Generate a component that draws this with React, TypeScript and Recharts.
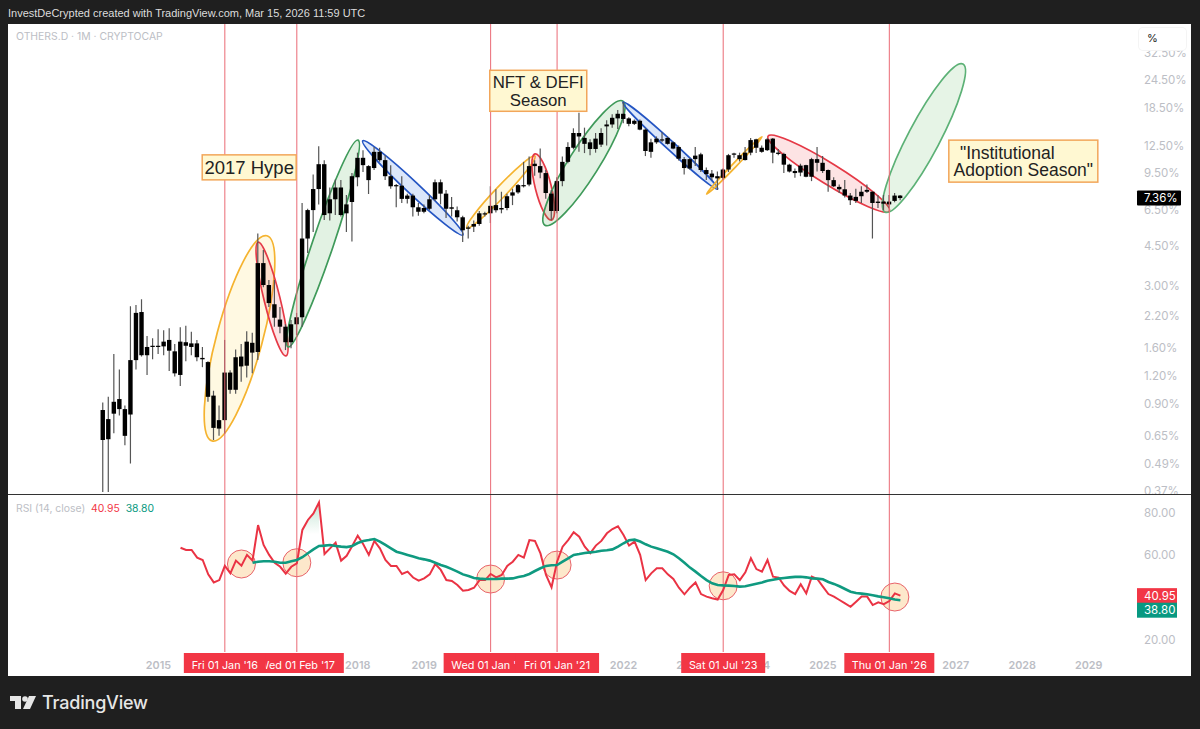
import React from 'react';
import {
  Area, Bar, ComposedChart, Line, ReferenceDot, ReferenceLine, XAxis, YAxis,
} from 'recharts';

// monthly candles, index 0 = Mar 2014, last = Mar 2026
const opens = [
  .846,.628,.815,.946,.854,.808,1.408,2.30,1.48,1.61,
  1.63,1.62,1.73,1.54,1.21,1.69,1.61,1.67,1.44,1.38,
  .98,.70,.763,1.24,1.04,1.46,1.33,1.68,1.53,3.79,
  3.03,2.49,2.13,1.98,1.69,2.03,2.18,4.87,6.51,8.07,
  10.4,6.3,7.27,8.2,6.3,7.07,9.1,11.1,10.2,10.0,
  11.8,10.84,9.2,8.4,8.35,7.3,7.55,6.7,6.4,6.6,
  7.27,8.65,7.7,6.7,6.5,6.05,5.4,5.5,5.65,6.25,
  6.3,6.85,6.55,6.65,7.55,7.8,8.4,8.45,10.2,10.2,
  9.5,7.7,6.45,8.75,10.65,12.3,14.3,13.6,13.0,12.15,
  12.7,15.3,15.6,16.6,17.4,16.6,15.7,16.2,14.8,11.8,
  13.0,13.4,13.6,13.0,12.4,10.95,9.95,10.95,11.5,9.8,
  9.45,9.2,9.05,9.85,11.55,11.4,10.85,11.7,13.4,12.3,
  12.0,13.5,11.7,11.55,10.35,9.7,9.55,10.3,9.15,10.95,
  10.55,9.8,8.84,8.25,8.05,7.55,7.15,7.5,7.85,7.85,
  7.0,7.1,6.9,7.15,7.55,
];
const closes = [
  .623,.771,.92,.854,.65,1.408,2.28,1.48,1.61,1.63,
  1.61,1.70,1.55,1.23,1.70,1.63,1.67,1.45,1.42,.968,
  .705,.763,1.24,1.04,1.45,1.32,1.70,1.52,3.79,3.03,
  2.52,2.17,1.98,1.69,2.03,2.18,4.87,6.51,8.07,10.4,
  6.19,7.27,8.2,6.19,6.9,9.2,11.1,10.3,8.84,11.8,
  10.84,9.2,8.3,8.3,7.3,7.55,6.7,6.4,6.65,7.27,
  8.65,7.7,6.6,6.6,6.05,5.3,5.45,5.65,6.3,6.3,
  6.8,6.5,6.65,7.5,7.8,8.4,8.3,10.2,10.45,9.55,
  7.75,6.45,8.75,10.65,12.4,14.3,13.8,12.8,12.15,13.5,
  14.3,15.6,16.7,17.4,16.5,15.7,16.2,14.8,11.9,13.0,
  13.5,13.3,12.8,12.2,11.0,10.0,10.95,11.35,9.8,9.4,
  9.1,9.0,9.85,11.4,11.6,10.95,11.7,13.3,12.3,11.8,
  13.4,11.7,11.55,10.35,9.65,9.5,10.25,9.15,10.95,10.55,
  9.7,8.84,8.3,8.05,7.55,7.2,7.45,7.85,8.0,7.0,
  7.1,6.95,7.1,7.55,7.36,
];
const highs = [
  .913,.968,1.497,1.28,.885,2.44,2.47,2.62,1.80,1.76,
  1.93,1.91,1.95,1.66,1.97,2.0,1.88,1.73,1.61,1.39,
  1.03,.885,1.73,1.27,1.57,1.66,1.89,1.86,5.13,4.33,
  3.19,3.19,2.42,2.03,2.12,2.28,7.0,6.6,9.35,12.5,
  10.84,8.2,8.9,8.84,7.6,9.5,11.7,12.0,10.3,12.4,
  12.3,11.4,10.3,8.5,9.2,7.7,7.7,7.0,6.9,7.6,
  8.9,8.9,8.0,7.45,6.75,6.15,5.55,5.85,6.45,6.4,
  8.3,8.05,7.85,7.7,8.1,8.5,10.65,11.25,10.84,12.2,
  9.8,8.0,9.1,11.25,13.0,15.0,17.6,15.1,13.4,14.3,
  15.0,16.3,17.3,18.1,19.6,16.8,16.4,16.4,15.0,13.5,
  13.8,14.4,13.8,13.1,12.6,11.2,11.1,12.4,11.7,10.05,
  9.8,9.65,9.95,11.55,11.7,11.7,12.4,13.6,13.5,12.6,
  13.6,13.6,12.15,11.7,10.45,9.95,10.45,10.35,11.1,12.4,
  11.3,9.85,9.1,8.45,8.84,7.75,8.1,8.3,8.45,7.9,
  7.6,7.6,7.6,7.75,7.6,
];
const lows = [
  .366,.366,.668,.80,.59,.49,1.28,1.46,1.21,1.42,
  1.50,1.48,1.26,1.19,1.08,1.39,1.48,1.39,1.31,.92,
  .623,.65,.665,1.0,1.0,1.13,1.18,1.23,1.41,2.96,
  2.42,1.98,1.85,1.56,1.59,1.82,1.98,4.2,5.2,6.9,
  5.88,5.85,6.19,6.1,5.2,4.73,8.3,9.6,7.67,9.79,
  10.65,8.84,8.1,6.7,7.0,6.97,6.1,6.15,6.3,6.5,
  7.15,6.9,6.0,6.1,5.8,4.7,4.87,5.2,5.55,6.1,
  5.7,6.35,6.3,6.5,6.85,7.7,8.2,8.3,9.25,9.0,
  7.3,5.88,6.3,8.3,10.5,12.1,11.8,11.65,11.4,11.7,
  12.4,12.6,15.1,14.9,15.8,15.3,15.5,14.7,11.3,11.1,
  12.8,13.0,12.7,12.1,10.8,9.35,9.85,10.2,9.6,8.84,
  8.84,8.0,8.9,9.6,11.1,10.7,10.8,11.4,11.65,11.7,
  11.9,10.5,11.4,9.5,9.55,9.05,9.2,9.1,8.75,9.65,
  9.5,7.85,8.25,7.75,7.4,6.85,7.0,7.0,7.75,4.87,
  6.65,6.5,6.65,7.05,7.2,
];

// RSI starts at candle 14, its average at candle 27
const rsiStart = 14;
const rsiValues = [
  63.6,62.5,62.5,58.9,57.8,51.0,47.2,48.3,55.0,51.5,
  57.5,55.1,60.2,57.5,74.3,64.9,60.2,56.5,54.6,51.3,
  54.6,56.2,72.0,76.7,79.8,85.0,60.6,63.3,66.0,57.5,
  59.8,64.4,69.3,65.2,60.2,66.8,63.3,57.8,55.0,55.0,
  51.2,52.3,49.5,48.0,49.1,51.0,55.9,53.1,48.3,47.9,
  46.0,43.3,43.6,44.7,48.3,48.3,51.2,49.6,50.7,55.0,
  57.0,60.2,58.9,67.2,66.8,60.9,50.7,44.9,57.0,64.1,
  67.2,70.9,68.8,64.1,61.0,64.6,66.8,70.4,72.4,73.7,
  69.6,64.6,66.5,60.2,48.3,51.5,53.9,53.9,51.0,48.8,
  44.7,41.6,44.7,47.2,41.7,40.5,39.7,39.1,43.6,50.7,
  51.0,48.3,52.0,58.6,53.5,52.3,57.8,49.9,49.5,45.7,
  43.2,41.7,46.3,42.0,49.9,48.8,45.2,41.7,40.5,38.9,
  37.3,35.7,38.1,40.5,40.5,36.5,37.8,36.9,38.4,42.0,40.95,
];
const maStart = 27;
const maValues = [
  56.5,57.0,57.2,57.2,57.0,56.5,56.5,57.2,57.8,59.1,
  61.0,62.8,64.4,64.6,64.9,64.4,64.1,63.9,64.4,65.8,
  66.8,67.2,67.7,66.5,64.9,63.3,61.7,61.0,60.2,59.4,
  58.6,58.1,57.5,56.5,55.4,54.6,53.5,52.3,51.0,50.2,
  49.3,49.0,48.8,48.8,48.8,49.0,49.0,49.1,49.8,50.2,
  51.2,52.6,53.9,55.0,55.3,55.4,57.0,58.6,60.2,60.6,
  61.1,61.4,61.7,62.2,62.4,62.8,64.1,65.7,67.1,67.4,
  66.5,65.2,64.1,63.3,62.5,61.7,60.5,58.6,56.5,54.2,
  52.3,50.2,48.3,46.8,46.0,45.8,45.7,45.5,45.2,45.4,
  46.0,46.6,47.2,48.0,48.5,49.0,49.3,49.6,49.8,49.9,
  49.6,49.1,49.0,48.7,47.4,46.5,45.4,44.1,42.8,42.2,
  41.9,41.6,41.1,40.6,40.2,39.7,39.1,38.8,
];

const priceTicks = [0.37,0.49,0.65,0.9,1.2,1.6,2.2,3,4.5,6.5,9.5,12.5,18.5,24.5,32.5];
const lastPrice = 7.36;
const rsiTicks = [80,60,20];
const lastRsi = 40.95;
const lastMa = 38.8;

const yearTicks = [10,34,46,58,94,106,118,130,154,166,178];
const yearLabels = ['2015','2017','2018','2019','2022','2023','2024','2025','2027','2028','2029'];
// drawn in this order, later boxes cover earlier ones
const eventMonths = [35,22,70,82,112,142];
const eventLabels = ["Wed 01 Feb '17","Fri 01 Jan '16","Wed 01 Jan '20","Fri 01 Jan '21","Sat 01 Jul '23","Thu 01 Jan '26"];
const eventWidths = [94,82,94,84,84,90];

const rsiCircles = [[25,55.9],[35,56.5],[70,48.8],[82,55.4],[112,45.6],[143,40.3]];

// [from month, from price, to month, to price, half width px, stroke, fill]
const ellipses: [number,number,number,number,number,string,string][] = [
  [19.7,.617,29.6,5.01,23,'#f5b32f','rgba(255,236,160,0.3)'],
  [28,4.69,33.05,1.47,8,'#e53946','rgba(240,80,90,0.16)'],
  [33.4,1.61,46.05,13.3,10.5,'#3f9a5a','rgba(76,175,80,0.16)'],
  [46.9,13.2,65,5.05,6.2,'#2455c3','rgba(60,120,230,0.18)'],
  [65.7,5.43,78,11.3,5.5,'#f5b32f','rgba(255,236,160,0.3)'],
  [78,11.55,81,5.88,8,'#e53946','rgba(240,80,90,0.16)'],
  [79.8,5.58,93.9,19.8,15,'#3f9a5a','rgba(76,175,80,0.16)'],
  [93.9,19.6,111,8.07,4.3,'#2455c3','rgba(60,120,230,0.18)'],
  [109,7.67,119,13.75,2,'#f5b32f','rgba(255,236,160,0.3)'],
  [120.1,13.85,142,6.44,10.5,'#e53946','rgba(240,80,90,0.16)'],
  [141.2,6.38,155.3,28.9,16,'#5cb176','rgba(76,175,80,0.14)'],
];

// [month, price, width px, height px, font px, line shifts px, lines]
const notes: [number,number,number,number,number,number[],string[]][] = [
  [26.4,10.07,94,25,18.5,[0],['2017 Hype']],
  [78.6,22,97,41,16.8,[0,0],['NFT & DEFI','Season']],
  [166.2,10.73,149,42,17.5,[-16,0],['"Institutional','Adoption Season"']],
];

const candles = opens.map((open, i) => ({
  i, open, close: closes[i], high: highs[i], low: lows[i], range: [lows[i], highs[i]],
}));

const rsiRows = opens.map((_, i) => {
  const rsi = i >= rsiStart ? rsiValues[i - rsiStart] : null;
  return {
    i,
    rsi,
    ma: i >= maStart ? maValues[i - maStart] : null,
    over: rsi !== null && rsi >= 70 && i < 50 && i > 30 ? [70, rsi] : null,
  };
});

const X_DOMAIN: [number, number] = [-17.16, 186.73];
const PRICE_DOMAIN: [number, number] = [0.359, 43.5];
const RSI_DOMAIN: [number, number] = [14.33, 88.5];
const W = 1183;
const AXIS_W = 54;
const PLOT_RIGHT = W - AXIS_W;
const NO_MARGIN = { top: 0, right: 0, bottom: 0, left: 0 };
const MAIN_MARGIN = { top: 0, right: 0, bottom: 10, left: 0 };
const SANS = '"Liberation Sans", Arial, sans-serif';
const AXIS_FONT = 'Inter, sans-serif';
const GREY = '#bcbec5';
const RED = '#f23645';
const TEAL = '#089981';
const EVENT_LINE = '#ea6a75';
const PANE_TOP = 495;

function Candle(props: any) {
  const { x, y, width, height, payload } = props;
  const { open, close, high, low } = payload;
  const cx = x + width / 2;
  const toY = (v: number) => y + height * Math.log(high / v) / Math.log(high / low);
  const top = toY(Math.max(open, close));
  const bottom = toY(Math.min(open, close));
  return (
    <g>
      <line x1={cx} x2={cx} y1={y} y2={y + height} stroke="#555" strokeWidth={1.2} />
      <rect x={cx - 2.2} y={top} width={4.4} height={Math.max(bottom - top, 1.2)} fill="#000" />
    </g>
  );
}

function ellipseShape(halfWidth: number, stroke: string, fill: string) {
  return (p: any) => {
    const { x1, y1, x2, y2 } = p;
    const mx = (x1 + x2) / 2;
    const my = (y1 + y2) / 2;
    const rx = Math.hypot(x2 - x1, y2 - y1) / 2;
    const deg = (Math.atan2(y2 - y1, x2 - x1) * 180) / Math.PI;
    return (
      <ellipse cx={mx} cy={my} rx={rx} ry={halfWidth} fill={fill} stroke={stroke} strokeWidth={1.7}
        transform={`rotate(${deg} ${mx} ${my})`} />
    );
  };
}

function noteShape(w: number, h: number, font: number, shifts: number[], lines: string[]) {
  return (p: any) => {
    const { cx, cy } = p;
    const startY = cy - ((lines.length - 1) * 17.7) / 2 + 6.5;
    return (
      <g>
        <rect x={cx - w / 2} y={cy - h / 2} width={w} height={h} fill="#fff8d2" stroke="#f2a65a" strokeWidth={1.5} />
        {lines.map((t, k) => (
          <text key={k} x={cx + shifts[k]} y={startY + k * 17.7} textAnchor="middle" fontSize={font} fontFamily={SANS} fill="#222">
            {t}
          </text>
        ))}
      </g>
    );
  };
}

function PriceTick(props: any) {
  const { y, payload } = props;
  const v = payload.value;
  const tx = PLOT_RIGHT + 7;
  if (v === lastPrice) {
    return (
      <g>
        <rect x={PLOT_RIGHT} y={y - 7.5} width={44} height={15} fill="#000" rx={1} />
        <text x={tx} y={y + 4} fontSize={11.5} fontFamily={AXIS_FONT} fill="#fff">{v.toFixed(2)}%</text>
      </g>
    );
  }
  return <text x={tx} y={y + 4} fontSize={11.5} fontFamily={AXIS_FONT} fill={GREY}>{v.toFixed(2)}%</text>;
}

function RsiTick(props: any) {
  const { y, payload } = props;
  const v = payload.value;
  const tx = PLOT_RIGHT + 7;
  if (v === lastRsi || v === lastMa) {
    const dy = v === lastMa ? 10 : 0;
    return (
      <g>
        <rect x={PLOT_RIGHT} y={y + dy - 7.5} width={40} height={15} fill={v === lastMa ? TEAL : RED} />
        <text x={tx} y={y + dy + 4} fontSize={11.5} fontFamily={AXIS_FONT} fill="#fff">{v.toFixed(2)}</text>
      </g>
    );
  }
  return <text x={tx} y={y + 4} fontSize={11.5} fontFamily={AXIS_FONT} fill={GREY}>{v.toFixed(2)}</text>;
}

function TimeTick(props: any) {
  const { x, payload } = props;
  const v = payload.value;
  const ev = eventMonths.indexOf(v);
  if (ev >= 0) {
    const w = eventWidths[ev];
    return (
      <g>
        <rect x={x - w / 2} y={653 - PANE_TOP} width={w} height={20} fill={RED} />
        <text x={x} y={669 - PANE_TOP} textAnchor="middle" fontSize={10.8} fontFamily={AXIS_FONT} fill="#fff">{eventLabels[ev]}</text>
      </g>
    );
  }
  return (
    <text x={x} y={669 - PANE_TOP} textAnchor="middle" fontSize={10.8} fontWeight={600} fontFamily={AXIS_FONT} fill={GREY}>
      {yearLabels[yearTicks.indexOf(v)]}
    </text>
  );
}

function Logo() {
  return (
    <svg width={30} height={16} style={{ position: 'absolute', left: 9, top: 695 }}>
      <path d="M1 1h11v13H6V6H1z" fill="#e6e6e6" />
      <circle cx={16} cy={4} r={2.8} fill="#e6e6e6" />
      <path d="M20 1h7l-6 13h-7z" fill="#e6e6e6" />
    </svg>
  );
}

export default function App() {
  const layer: React.CSSProperties = { position: 'absolute', left: 8 };
  return (
    <div style={{ position: 'absolute', left: 0, top: 0, width: 1200, height: 729, background: '#1f1f1f', overflow: 'hidden' }}>
      <div style={{ position: 'absolute', left: 8, top: 7, color: '#dcdcdc', font: `11px ${SANS}`, whiteSpace: 'nowrap' }}>
        InvestDeCrypted created with TradingView.com, Mar 15, 2026 11:59 UTC
      </div>
      <div style={{ position: 'absolute', left: 8, top: 24, width: W, height: 652, background: '#fff' }} />

      {/* drawings sit behind the candles */}
      <div style={{ ...layer, top: 24 }}>
        <ComposedChart width={W} height={480} data={candles} margin={MAIN_MARGIN}>
          <XAxis dataKey="i" type="number" domain={X_DOMAIN} allowDataOverflow hide />
          <YAxis orientation="right" width={AXIS_W} scale="log" domain={PRICE_DOMAIN} allowDataOverflow
            tick={false} axisLine={false} tickLine={false} />
          {ellipses.map(([m1, p1, m2, p2, hw, stroke, fill], k) => (
            <ReferenceLine key={k} ifOverflow="visible"
              segment={[{ x: m1, y: p1 }, { x: m2, y: p2 }]}
              shape={ellipseShape(hw, stroke, fill)} />
          ))}
        </ComposedChart>
      </div>

      <div style={{ ...layer, top: 24 }}>
        <ComposedChart width={W} height={480} data={candles} margin={MAIN_MARGIN}>
          <XAxis dataKey="i" type="number" domain={X_DOMAIN} allowDataOverflow hide />
          <YAxis orientation="right" width={AXIS_W} scale="log" domain={PRICE_DOMAIN} allowDataOverflow
            ticks={[...priceTicks, lastPrice]} interval={0} tick={<PriceTick />} axisLine={false} tickLine={false} />
          <Bar dataKey="range" barSize={5} shape={<Candle />} isAnimationActive={false} />
          {notes.map(([m, p, w, h, font, shifts, lines], k) => (
            <ReferenceDot key={k} x={m} y={p} ifOverflow="visible" shape={noteShape(w, h, font, shifts, lines)} />
          ))}
          {eventMonths.map((m) => (
            <ReferenceLine key={m} x={m} stroke={EVENT_LINE} strokeWidth={1} />
          ))}
        </ComposedChart>
      </div>

      <div style={{ position: 'absolute', left: 16, top: 30, color: GREY, font: '10.4px Inter, sans-serif' }}>OTHERS.D · 1M · CRYPTOCAP</div>
      <div style={{ position: 'absolute', left: 1139, top: 28, width: 47, height: 22, background: '#fff', boxShadow: '0 0 0 1px #f4f4f4', borderRadius: 4, color: '#222', font: '11px Inter, sans-serif', lineHeight: '20px', textIndent: 8 }}>%</div>

      <div style={{ position: 'absolute', left: 8, top: 494, width: W, height: 1, background: '#333' }} />

      <div style={{ ...layer, top: PANE_TOP }}>
        <ComposedChart width={W} height={181} data={rsiRows} margin={NO_MARGIN}>
          <XAxis dataKey="i" type="number" domain={X_DOMAIN} allowDataOverflow height={24} tick={false} axisLine={false} tickLine={false} />
          <YAxis orientation="right" width={AXIS_W} domain={RSI_DOMAIN} allowDataOverflow tick={false} axisLine={false} tickLine={false} />
          {rsiCircles.map(([m, v], k) => (
            <ReferenceDot key={k} x={m} y={v} r={14} fill="rgba(250,200,130,0.42)" stroke="#e8636a" strokeWidth={1} />
          ))}
        </ComposedChart>
      </div>

      <div style={{ ...layer, top: PANE_TOP }}>
        <ComposedChart width={W} height={181} data={rsiRows} margin={NO_MARGIN}>
          <defs>
            <linearGradient id="overFill" x1="0" y1="0" x2="0" y2="1">
              <stop offset="0%" stopColor="#4caf7d" stopOpacity={0.55} />
              <stop offset="100%" stopColor="#4caf7d" stopOpacity={0} />
            </linearGradient>
          </defs>
          <XAxis dataKey="i" type="number" domain={X_DOMAIN} allowDataOverflow height={24}
            ticks={[...yearTicks, ...eventMonths]} interval={0} tick={<TimeTick />} axisLine={false} tickLine={false} />
          <YAxis orientation="right" width={AXIS_W} domain={RSI_DOMAIN} allowDataOverflow
            ticks={[...rsiTicks, lastRsi, lastMa]} interval={0} tick={<RsiTick />} axisLine={false} tickLine={false} />
          {eventMonths.map((m) => (
            <ReferenceLine key={m} x={m} stroke={EVENT_LINE} strokeWidth={1} />
          ))}
          <Area dataKey="over" stroke="none" fill="url(#overFill)" isAnimationActive={false} dot={false} activeDot={false} />
          <Line dataKey="rsi" stroke="#ea3344" strokeWidth={2} dot={false} isAnimationActive={false} />
          <Line dataKey="ma" stroke="#0f9a80" strokeWidth={2.6} dot={false} isAnimationActive={false} />
        </ComposedChart>
      </div>

      <div style={{ position: 'absolute', left: 16, top: 502, font: '10.4px Inter, sans-serif', color: GREY, whiteSpace: 'pre' }}>
        RSI (14, close)  <span style={{ color: RED }}>40.95</span>  <span style={{ color: TEAL }}>38.80</span>
      </div>

      <Logo />
      <div style={{ position: 'absolute', left: 42, top: 692, color: '#e6e6e6', font: '500 18px Inter, sans-serif', letterSpacing: -0.2 }}>TradingView</div>
    </div>
  );
}
